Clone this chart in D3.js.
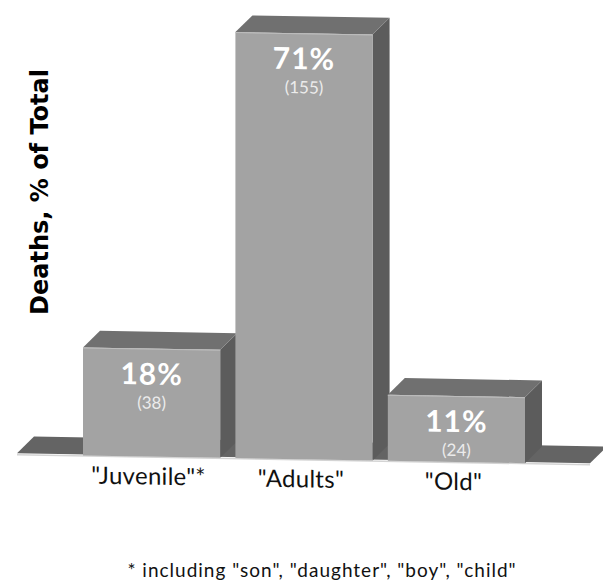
<!DOCTYPE html>
<html>
<head>
<meta charset="utf-8">
<script src="https://cdn.jsdelivr.net/npm/d3@7"></script>
<style>
  html, body { margin: 0; padding: 0; background: #fff; }
  svg { display: block; font-family: Lato, "Open Sans", sans-serif; }
</style>
</head>
<body>
<script>
// Share of deaths by age group
const categories = ['"Juvenile"*', '"Adults"', '"Old"'];
const percents = [18, 71, 11];
const counts = [38, 155, 24];
const yTitle = "Deaths, % of Total";
const footnote = '* including "son", "daughter", "boy", "child"';

const W = 603, H = 583;
const depth = 17;               // oblique depth of the 3D blocks
const colors = { front: "#a3a3a3", top: "#707070", side: "#5c5c5c", floor: "#646464" };

const svg = d3.select("body").append("svg").attr("width", W).attr("height", H);

const x = d3.scaleBand().domain(categories).range([83, 525]).paddingInner(0.1).paddingOuter(0);
const y = d3.scaleLinear().domain([0, 71]).range([454, 28]);

// the whole scene is viewed with a slight tilt
const scene = svg.append("g").attr("transform", "skewY(1)");

// floor slab
const y0 = y(0);
const fl = x.range()[0] - 66, fr = x.range()[1] + 65;
scene.append("polygon")
  .attr("points", [[fl, y0 - 1], [fl + depth, y0 - 1 - depth], [fr + depth, y0 - 1 - depth], [fr, y0 - 1]].join(" "))
  .attr("fill", colors.floor);
scene.append("line")
  .attr("x1", fl).attr("x2", fr).attr("y1", y0 + 0.5).attr("y2", y0 + 0.5)
  .attr("stroke", "#d4d4d4").attr("stroke-width", 1.5);

const data = categories.map((c, i) => ({ cat: c, pct: percents[i], n: counts[i] }));

const bars = scene.selectAll("g.bar").data(data).join("g").attr("class", "bar");

bars.append("polygon") // side
  .attr("points", d => {
    const x0 = x(d.cat) + x.bandwidth(), yt = y(d.pct);
    return [[x0, yt], [x0 + depth, yt - depth], [x0 + depth, y0 - depth], [x0, y0]].join(" ");
  })
  .attr("fill", colors.side);

bars.append("polygon") // top
  .attr("points", d => {
    const a = x(d.cat), b = a + x.bandwidth(), yt = y(d.pct);
    return [[a, yt], [a + depth, yt - depth], [b + depth, yt - depth], [b, yt]].join(" ");
  })
  .attr("fill", colors.top);

bars.append("rect") // front
  .attr("x", d => x(d.cat))
  .attr("y", d => y(d.pct))
  .attr("width", x.bandwidth())
  .attr("height", d => y0 - y(d.pct))
  .attr("fill", colors.front);

bars.append("line") // highlight on the front top edge
  .attr("x1", d => x(d.cat)).attr("x2", d => x(d.cat) + x.bandwidth())
  .attr("y1", d => y(d.pct) + 0.5).attr("y2", d => y(d.pct) + 0.5)
  .attr("stroke", "#bdbdbd").attr("stroke-width", 1);

bars.append("text")
  .attr("x", d => x(d.cat) + x.bandwidth() / 2)
  .attr("y", d => y(d.pct) + 36)
  .attr("text-anchor", "middle")
  .attr("fill", "#fff")
  .attr("font-weight", "bold")
  .attr("font-size", 30)
  .attr("letter-spacing", 1)
  .text(d => d.pct + "%");

bars.append("text")
  .attr("x", d => x(d.cat) + x.bandwidth() / 2)
  .attr("y", d => y(d.pct) + 60)
  .attr("text-anchor", "middle")
  .attr("fill", "#ececec")
  .attr("font-size", 17)
  .text(d => "(" + d.n + ")");

// category labels under each block
scene.selectAll("text.cat").data(data).join("text")
  .attr("class", "cat")
  .attr("x", d => x(d.cat) + x.bandwidth() / 2 - 3)
  .attr("y", y0 + 28)
  .attr("text-anchor", "middle")
  .attr("font-size", 24)
  .attr("letter-spacing", 0.3)
  .attr("fill", "#111")
  .text(d => d.cat);

// axis title
svg.append("text")
  .attr("transform", "translate(48,192) rotate(-90)")
  .attr("text-anchor", "middle")
  .attr("font-family", "'DejaVu Sans', sans-serif")
  .attr("font-weight", "bold")
  .attr("font-size", 24)
  .attr("fill", "#000")
  .text(yTitle);

svg.append("text")
  .attr("x", 322).attr("y", 577)
  .attr("text-anchor", "middle")
  .attr("font-size", 19)
  .attr("letter-spacing", 1)
  .attr("fill", "#111")
  .text(footnote);
</script>
</body>
</html>
